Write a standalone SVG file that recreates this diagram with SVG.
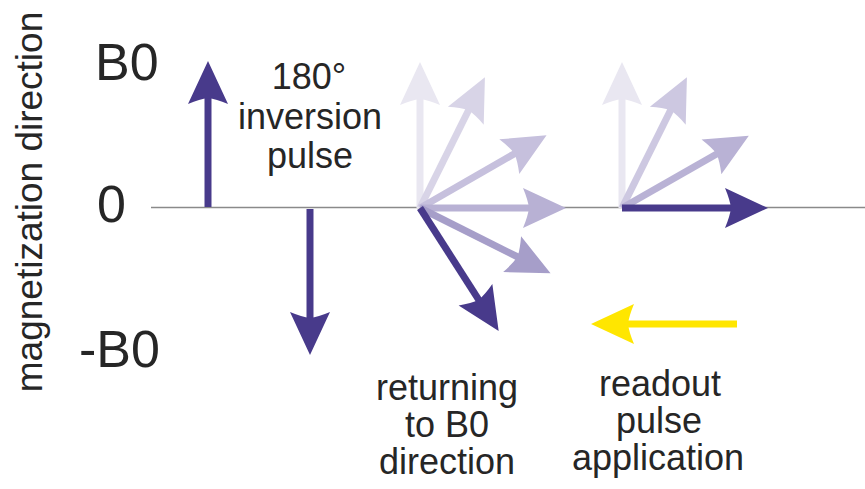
<svg xmlns="http://www.w3.org/2000/svg" xmlns:xlink="http://www.w3.org/1999/xlink" width="865" height="489" viewBox="0 0 865 489">
<style>
text{font-family:"Liberation Sans",Arial,sans-serif;fill:#262626}
.big{font-size:52px}
.lbl{font-size:36px;text-anchor:middle}
.axis{font-size:37px;text-anchor:middle}
</style>
<defs>
<g id="arr">
<line x1="0" y1="0" x2="110" y2="0" stroke="currentColor" stroke-width="7"/>
<path d="M146,0 L103,-20 Q108,-8 109,0 Q108,8 103,20 Z" fill="currentColor"/>
</g>
</defs>
<rect width="865" height="489" fill="#fff"/>
<g id="axis-line"><line x1="151" y1="207.5" x2="865" y2="207.5" stroke="#8a8a8a" stroke-width="1.3"/></g>
<g id="ylabel"><text class="axis" transform="translate(42,202) rotate(-90)">magnetization direction</text></g>
<g id="ticks">
<text class="big" x="95" y="80">B0</text>
<text class="big" x="97" y="222">0</text>
<text class="big" x="79" y="367">-B0</text>
</g>
<g id="connectors">
<g id="initial" style="color:#483a8b"><use xlink:href="#arr" transform="translate(208,207) rotate(-90)"/></g>
<g id="inverted" style="color:#483a8b"><use xlink:href="#arr" transform="translate(310,209) rotate(90)"/></g>
<g id="returning">
<use xlink:href="#arr" style="color:#e9e7f1" transform="translate(420,208) rotate(-90)"/>
<use xlink:href="#arr" style="color:#d8d4e7" transform="translate(420,208) rotate(-63.6)"/>
<use xlink:href="#arr" style="color:#c6c0dd" transform="translate(420,208) rotate(-29.9)"/>
<use xlink:href="#arr" style="color:#b8b1d4" transform="translate(420,208) rotate(0)"/>
<use xlink:href="#arr" style="color:#a69ec9" transform="translate(420,208) rotate(26.6)"/>
<use xlink:href="#arr" style="color:#483a8b" transform="translate(420,208) rotate(57.4)"/>
</g>
<g id="readout">
<use xlink:href="#arr" style="color:#e9e7f1" transform="translate(622,208) rotate(-90)"/>
<use xlink:href="#arr" style="color:#cdc8e1" transform="translate(622,208) rotate(-63.6)"/>
<use xlink:href="#arr" style="color:#b9b2d5" transform="translate(622,208) rotate(-29.7)"/>
<use xlink:href="#arr" style="color:#483a8b" transform="translate(622,208) rotate(0)"/>
</g>
<g id="pulse-arrow" style="color:#ffe600"><use xlink:href="#arr" transform="translate(737,324) rotate(180)"/></g>
</g>
<g id="label-inversion">
<text class="lbl" x="309" y="89">180°</text>
<text class="lbl" x="310" y="129">inversion</text>
<text class="lbl" x="310" y="168">pulse</text>
</g>
<g id="label-returning">
<text class="lbl" x="447" y="400">returning</text>
<text class="lbl" x="447" y="437">to B0</text>
<text class="lbl" x="447" y="474">direction</text>
</g>
<g id="label-readout">
<text class="lbl" x="660" y="396">readout</text>
<text class="lbl" x="659" y="433">pulse</text>
<text class="lbl" x="658" y="470">application</text>
</g>
</svg>
